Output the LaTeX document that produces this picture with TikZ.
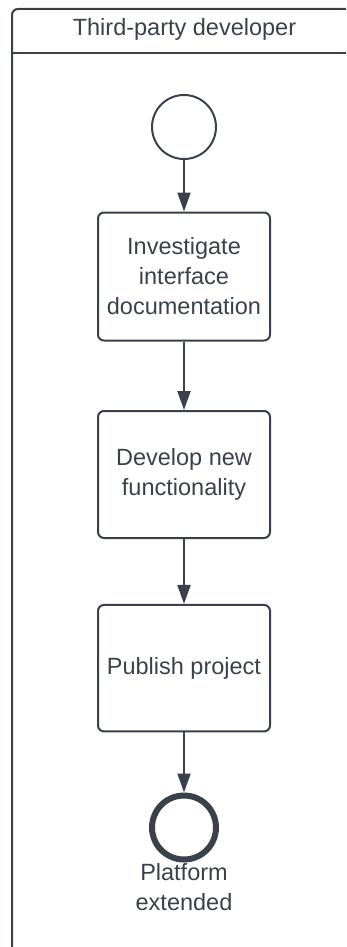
\documentclass[tikz,border=0pt]{standalone}
\usepackage{fontspec}
\setmainfont{Liberation Sans}
\usetikzlibrary{arrows.meta}
\definecolor{ink}{HTML}{3A414A}
\begin{document}
\begin{tikzpicture}[x=1pt,y=-1pt,
  every node/.style={text=ink, font=\fontsize{23.5}{30}\selectfont},
  task/.style={draw=ink, line width=2pt, rounded corners=6pt, minimum width=172pt, align=center, inner sep=0pt},
  startev/.style={draw=ink, line width=2pt, circle, minimum size=64pt, inner sep=0pt},
  endev/.style={draw=ink, line width=6pt, circle, minimum size=64pt, inner sep=0pt},
  flow/.style={draw=ink, line width=2pt, -{Triangle[width=13pt,length=19pt]}}]
  \useasboundingbox (0,0) rectangle (346,947);
  \clip (0,0) rectangle (346,947);
  % swimlane
  \draw[ink, line width=2pt, rounded corners=6pt] (370,9) -- (12,9) -- (12,980);
  \draw[ink, line width=2pt] (12,53) -- (370,53);
  \node (lane) at (184.5,29) {Third-party developer};
  % events and tasks
  \node[startev] (start) at (184,127) {};
  \node[task, minimum height=128pt] (t1) at (184,276.5) {Investigate\\interface\\documentation};
  \node[task, minimum height=127pt] (t2) at (184,474.5) {Develop new\\functionality};
  \node[task, minimum height=126.5pt] (t3) at (184,668.2) {Publish project};
  \node[endev] (end) at (184,827.5) {};
  \node[align=center, anchor=north] (endlbl) at (184,860) {Platform\\extended};
  % sequence flows
  \draw[flow] (start) -- (t1);
  \draw[flow] (t1) -- (t2);
  \draw[flow] (t2) -- (t3);
  \draw[flow] (t3) -- (end);
\end{tikzpicture}
\end{document}
